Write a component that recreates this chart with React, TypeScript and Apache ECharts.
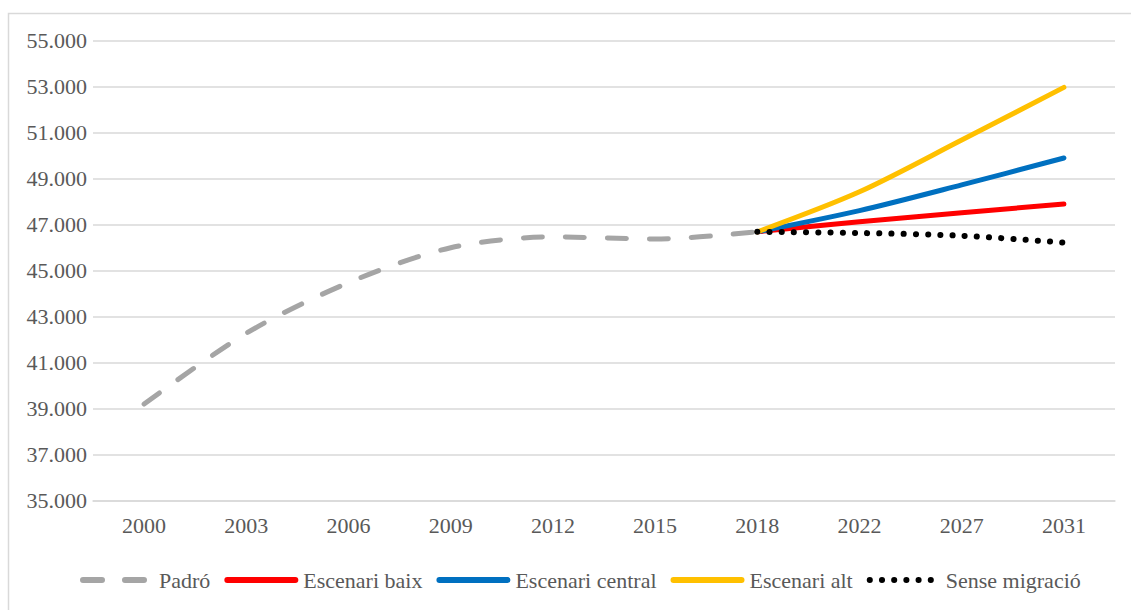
import React, { useEffect, useRef } from "react";
import * as echarts from "echarts";

const years = ["2000", "2003", "2006", "2009", "2012", "2015", "2018", "2022", "2027", "2031"];
const padro = [39200, 42280, 44480, 46000, 46470, 46380, 46690, null, null, null];
const baix = [null, null, null, null, null, null, 46690, 47130, 47520, 47900];
const central = [null, null, null, null, null, null, 46690, 47610, 48730, 49900];
const alt = [null, null, null, null, null, null, 46690, 48430, 50680, 52970];
const senseMigracio = [null, null, null, null, null, null, 46690, 46640, 46520, 46220];

const FONT = "'Liberation Serif', 'DejaVu Serif', serif";
const TEXT = "#595959";

function fmt(v: number) {
  const k = Math.floor(v / 1000);
  const r = String(Math.round(v % 1000)).padStart(3, "0");
  return `${k}.${r}`;
}

export default function App() {
  const ref = useRef<HTMLDivElement>(null);
  useEffect(() => {
    document.body.style.margin = "0";
    const chart = echarts.init(ref.current!, null, { renderer: "svg" });
    const mk = (name: string, data: any[], color: string, extra: any = {}) => ({
      name,
      type: "line",
      data,
      symbol: "none",
      smooth: 0.3,
      connectNulls: false,
      lineStyle: { color, width: 5, cap: "round", join: "round", ...extra },
      itemStyle: { color },
    });
    chart.setOption({
      animation: false,
      backgroundColor: "#ffffff",
      graphic: [
        {
          type: "rect",
          shape: { x: 8.5, y: 13.5, width: 1140, height: 620 },
          style: { fill: "none", stroke: "#d9d9d9", lineWidth: 1.5 },
          silent: true,
          z: -1,
        },
      ],
      grid: { left: 93, right: 16, top: 40.7, bottom: 109.3, containLabel: false },
      xAxis: {
        type: "category",
        data: years,
        boundaryGap: true,
        axisLine: { show: true, lineStyle: { color: "#d9d9d9", width: 1.5 } },
        axisTick: { show: false },
        axisLabel: { color: TEXT, fontFamily: FONT, fontSize: 22, margin: 14 },
      },
      yAxis: {
        type: "value",
        min: 35000,
        max: 55000,
        interval: 2000,
        axisLine: { show: false },
        axisTick: { show: false },
        splitLine: { lineStyle: { color: "#d9d9d9", width: 1.5 } },
        axisLabel: { color: TEXT, fontFamily: FONT, fontSize: 22, margin: 6, formatter: fmt },
      },
      legend: {
        bottom: 14,
        left: 75,
        itemWidth: 68,
        itemHeight: 12,
        itemGap: 14,
        lineStyle: { width: 6 },
        textStyle: { color: TEXT, fontFamily: FONT, fontSize: 22, padding: [0, 0, 0, 3] },
        itemStyle: { opacity: 0 },
        data: ["Padró", "Escenari baix", "Escenari central", "Escenari alt", "Sense migració"],
      },
      series: [
        mk("Padró", padro, "#a5a5a5", { type: [19, 23] }),
        mk("Escenari baix", baix, "#ff0000"),
        mk("Escenari central", central, "#0070c0"),
        mk("Escenari alt", alt, "#ffc000"),
        mk("Sense migració", senseMigracio, "#000000", { type: [0.1, 12.1], width: 6 }),
      ],
    });
    return () => chart.dispose();
  }, []);
  return <div ref={ref} style={{ width: 1131, height: 610 }} />;
}
